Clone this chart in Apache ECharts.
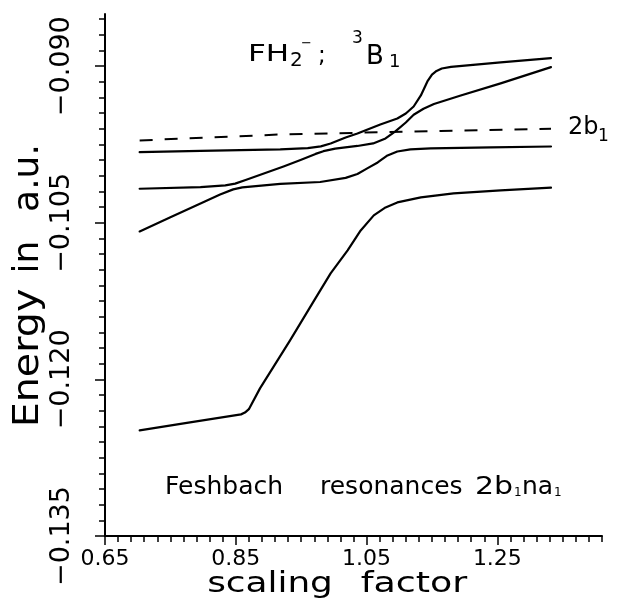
<!DOCTYPE html>
<html>
<head>
<meta charset="utf-8">
<script src="https://cdn.jsdelivr.net/npm/echarts@6/dist/echarts.min.js"></script>
<style>
  html, body { margin: 0; padding: 0; background: #ffffff; }
  #chart { width: 618px; height: 610px; }
</style>
</head>
<body>
<div id="chart"></div>
<script>
// Axis ticks
const xTickLabels = [0.65, 0.85, 1.05, 1.25];
const yTickLabels = [-0.135, -0.120, -0.105, -0.090];

// Resonance energies (a.u.) versus scaling factor
const level1 = [
  [0.703, -0.09823], [0.796, -0.09812], [0.918, -0.09797], [0.960, -0.09785],
  [0.980, -0.09768], [0.995, -0.09740], [1.018, -0.09683], [1.036, -0.09644],
  [1.071, -0.09558], [1.097, -0.09501], [1.110, -0.09453], [1.122, -0.09386],
  [1.133, -0.09280], [1.143, -0.09146], [1.150, -0.09080], [1.157, -0.09045],
  [1.165, -0.09022], [1.179, -0.09007], [1.255, -0.08964], [1.332, -0.08923]
];
const level2 = [
  [0.703, -0.10174], [0.796, -0.10158], [0.834, -0.10142], [0.849, -0.10125],
  [0.865, -0.10090], [0.923, -0.09960], [0.949, -0.09898], [0.972, -0.09840],
  [0.984, -0.09814], [1.002, -0.09790], [1.036, -0.09764], [1.060, -0.09740],
  [1.079, -0.09692], [1.094, -0.09625], [1.110, -0.09539], [1.122, -0.09465],
  [1.137, -0.09408], [1.153, -0.09362], [1.194, -0.09280], [1.255, -0.09165],
  [1.332, -0.09009]
];
const level3 = [
  [0.703, -0.10583], [0.750, -0.10448], [0.796, -0.10314], [0.826, -0.10228],
  [0.846, -0.10180], [0.860, -0.10160], [0.918, -0.10128], [0.979, -0.10109],
  [1.018, -0.10070], [1.036, -0.10032], [1.051, -0.09979], [1.067, -0.09922],
  [1.082, -0.09855], [1.097, -0.09817], [1.117, -0.09797], [1.148, -0.09788],
  [1.240, -0.09778], [1.332, -0.09769]
];
const level4 = [
  [0.703, -0.12488], [0.780, -0.12411], [0.858, -0.12335], [0.864, -0.12318],
  [0.870, -0.12285], [0.887, -0.12086], [0.933, -0.11626], [0.969, -0.11253],
  [0.995, -0.10985], [1.021, -0.10764], [1.041, -0.10573], [1.061, -0.10429],
  [1.079, -0.10353], [1.097, -0.10305], [1.133, -0.10257], [1.183, -0.10219],
  [1.255, -0.10190], [1.332, -0.10164]
];
// 2b1 threshold
const threshold2b1 = [
  [0.703, -0.09711], [0.918, -0.09654], [1.163, -0.09620], [1.332, -0.09599]
];

const X_MIN = 0.65, X_MAX = 1.41, X_MINOR = 0.02;
const Y_MIN = -0.135, Y_MAX = -0.085, Y_MINOR = 0.0015;

function stepValues(from, to, step) {
  const out = [];
  const n = Math.floor((to - from) / step + 1e-6);
  for (let i = 0; i <= n; i++) out.push(+(from + i * step).toFixed(6));
  return out;
}
const xMinorTicks = stepValues(X_MIN, X_MAX, X_MINOR);
const yMinorTicks = stepValues(Y_MIN, Y_MAX, Y_MINOR);

const FONT = '"DejaVu Sans", "Liberation Sans", sans-serif';
const INK = '#000000';

function fmtSigned(v, d) {
  return (v < 0 ? '\u2212' : '') + Math.abs(v).toFixed(d);
}

const chart = echarts.init(document.getElementById('chart'), null, { renderer: 'canvas' });

function curve(data) {
  return {
    type: 'line', data: data, xAxisIndex: 0, yAxisIndex: 0,
    showSymbol: false, smooth: false,
    lineStyle: { color: INK, width: 2.2, join: 'round', cap: 'round' },
    silent: true, animation: false
  };
}

// free text placed in pixel space; 'middle' sits at the cap-height centre
function txt(text, x, y, size, extra) {
  const o = {
    type: 'text', x: x, y: y, silent: true,
    style: {
      text: text, fill: INK, font: size + 'px ' + FONT,
      textAlign: (extra && extra.align) || 'left', textVerticalAlign: 'middle'
    }
  };
  if (extra) {
    if (extra.rotation != null) o.rotation = extra.rotation;
    if (extra.scaleX != null) o.scaleX = extra.scaleX;
  }
  return o;
}
const UP = Math.PI / 2;

chart.setOption({
  animation: false,
  backgroundColor: '#ffffff',
  grid: { left: 105, right: 16, top: 14, bottom: 74, containLabel: false, outerBoundsMode: 'none' },
  xAxis: [
    {
      type: 'value', min: X_MIN, max: X_MAX, interval: 0.2,
      axisLine: { show: true, onZero: false, lineStyle: { color: INK, width: 2 } },
      axisTick: { show: true, customValues: xTickLabels, length: 9, lineStyle: { color: INK, width: 1.5 } },
      axisLabel: {
        show: true, customValues: xTickLabels, margin: 12,
        color: INK, fontFamily: FONT, fontSize: 22,
        formatter: v => v.toFixed(2)
      },
      splitLine: { show: false }
    },
    {
      type: 'value', min: X_MIN, max: X_MAX, position: 'bottom',
      axisLine: { show: false, onZero: false },
      axisTick: { show: true, customValues: xMinorTicks, length: 6, lineStyle: { color: INK, width: 1.5 } },
      axisLabel: { show: false },
      splitLine: { show: false }
    }
  ],
  yAxis: [
    {
      type: 'value', min: Y_MIN, max: Y_MAX, interval: 0.015,
      axisLine: { show: true, onZero: false, lineStyle: { color: INK, width: 2 } },
      axisTick: { show: true, customValues: yTickLabels, length: 10, lineStyle: { color: INK, width: 1.5 } },
      axisLabel: {
        show: true, customValues: yTickLabels, margin: 30, rotate: 90,
        color: INK, fontFamily: FONT, fontSize: 27,
        formatter: v => fmtSigned(v, 3)
      },
      splitLine: { show: false }
    },
    {
      type: 'value', min: Y_MIN, max: Y_MAX, position: 'left',
      axisLine: { show: false, onZero: false },
      axisTick: { show: true, customValues: yMinorTicks, length: 6, lineStyle: { color: INK, width: 1.5 } },
      axisLabel: { show: false },
      splitLine: { show: false }
    }
  ],
  series: [
    curve(level1),
    curve(level2),
    curve(level3),
    curve(level4),
    {
      type: 'line', data: threshold2b1, xAxisIndex: 0, yAxisIndex: 0,
      showSymbol: false, silent: true, animation: false,
      lineStyle: { color: INK, width: 2, type: [13, 12] }
    }
  ],
  graphic: [
    // axis titles
    txt('scaling', 270, 585, 28, { align: 'center', scaleX: 1.28 }),
    txt('factor', 414, 585, 28, { align: 'center', scaleX: 1.3 }),
    txt('Energy', 29, 358, 36, { align: 'center', rotation: UP, scaleX: 1.1 }),
    txt('in', 29, 257, 36, { align: 'center', rotation: UP }),
    txt('a.u.', 29, 178, 36, { align: 'center', rotation: UP }),
    // molecule and state
    txt('FH', 248, 55, 23, { scaleX: 1.35 }),
    txt('2', 290, 61, 20),
    txt('\u2212', 301, 44, 13),
    txt(';', 318, 56, 23),
    txt('3', 352, 39, 17),
    txt('B', 366, 57, 26),
    txt('1', 389, 62, 18),
    // threshold label
    txt('2b', 568, 128, 24),
    txt('1', 598, 137, 17),
    // resonance label
    txt('Feshbach', 165, 487, 25),
    txt('resonances', 320, 487, 25),
    txt('2b', 475, 487, 25, { scaleX: 1.2 }),
    txt('1', 514, 493, 12),
    txt('na', 522, 487, 25),
    txt('1', 554, 493, 12)
  ]
});
</script>
</body>
</html>
